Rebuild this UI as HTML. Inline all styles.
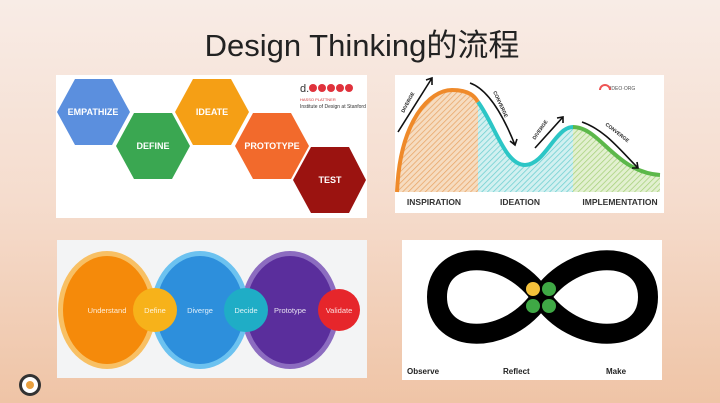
<!DOCTYPE html>
<html><head><meta charset="utf-8"><style>
html,body{margin:0;padding:0;width:720px;height:403px;overflow:hidden}
body{background:linear-gradient(180deg,#f8ece6 0%,#f5dccd 50%,#efc4a6 100%);font-family:"Liberation Sans","Noto Sans CJK SC",sans-serif}
</style></head><body>
<svg width="720" height="403" viewBox="0 0 720 403" xmlns="http://www.w3.org/2000/svg" style="position:absolute;left:0;top:0">
<defs>
<pattern id="h1" width="4" height="4" patternUnits="userSpaceOnUse" patternTransform="rotate(45)"><rect width="4" height="4" fill="#f6dcc0"/><line x1="0" y1="0" x2="0" y2="4" stroke="#e9a567" stroke-width="1.5"/></pattern>
<pattern id="h2" width="4" height="4" patternUnits="userSpaceOnUse" patternTransform="rotate(45)"><rect width="4" height="4" fill="#d2f0f0"/><line x1="0" y1="0" x2="0" y2="4" stroke="#6ccfd0" stroke-width="1.5"/></pattern>
<pattern id="h3" width="4" height="4" patternUnits="userSpaceOnUse" patternTransform="rotate(45)"><rect width="4" height="4" fill="#e2f0d0"/><line x1="0" y1="0" x2="0" y2="4" stroke="#a6d07a" stroke-width="1.5"/></pattern>
</defs>
<text x="362" y="56" text-anchor="middle" font-size="31" fill="#222" font-family="Liberation Sans,Noto Sans CJK SC,sans-serif">Design Thinking的流程</text>

<!-- TL panel -->
<rect x="56" y="75" width="311" height="143" fill="#fff"/>
<g font-family="Liberation Sans,sans-serif" font-weight="bold" font-size="9" fill="#fff" text-anchor="middle">
<polygon points="57,112 75,79 112,79 130,112 112,145 75,145" fill="#5b8fde"/><text x="93" y="115">EMPATHIZE</text>
<polygon points="116,146 134,113 172,113 190,146 172,179 134,179" fill="#3aa751"/><text x="153" y="149">DEFINE</text>
<polygon points="175,112 193,79 231,79 249,112 231,145 193,145" fill="#f59f15"/><text x="212" y="115">IDEATE</text>
<polygon points="235,146 253,113 291,113 309,146 291,179 253,179" fill="#f26a2c"/><text x="272" y="149">PROTOTYPE</text>
<polygon points="293,180 311,147 349,147 366,180 349,213 311,213" fill="#9b1310"/><text x="330" y="183">TEST</text>
</g>
<text x="300" y="92" font-size="11" fill="#333">d.</text>
<g fill="#e0323c"><circle cx="313" cy="88" r="4"/><circle cx="322" cy="88" r="4"/><circle cx="331" cy="88" r="4"/><circle cx="340" cy="88" r="4"/><circle cx="349" cy="88" r="4"/></g>
<text x="300" y="101" font-size="4" fill="#c33">HASSO PLATTNER</text>
<text x="300" y="108" font-size="5" fill="#333">Institute of Design at Stanford</text>

<!-- TR panel -->
<rect x="395" y="75" width="269" height="138" fill="#fff"/>
<path d="M397,192 C400,120 430,90 452,90 C470,90 475,97 478,102 L478,192 Z" fill="url(#h1)"/>
<path d="M478,102 C495,125 505,165 525,165 C545,165 555,127 573,127 L573,192 L478,192 Z" fill="url(#h2)"/>
<path d="M573,127 C600,127 615,172 660,175 L660,192 L573,192 Z" fill="url(#h3)"/>
<path d="M397,192 C400,120 430,90 452,90 C470,90 475,97 478,102" fill="none" stroke="#ef8a2a" stroke-width="4"/>
<path d="M478,102 C495,125 505,165 525,165 C545,165 555,127 573,127" fill="none" stroke="#2cc6c6" stroke-width="4"/>
<path d="M573,127 C600,127 615,172 660,175" fill="none" stroke="#5cb84a" stroke-width="4"/>
<g stroke="#111" stroke-width="1.6" fill="none">
<path d="M398,132 L432,78 M426,80 L432,78 L432,85"/>
<path d="M470,83 C490,90 505,120 515,145 M510,141 L515,145 L517,139"/>
<path d="M535,148 L563,117 M557,118 L563,117 L563,123"/>
<path d="M582,122 C605,130 620,150 638,168 M632,168 L638,168 L637,162"/>
</g>
<g font-size="5" font-weight="bold" fill="#222">
<text transform="translate(404,113) rotate(-62)">DIVERGE</text>
<text transform="translate(493,92) rotate(65)">CONVERGE</text>
<text transform="translate(535,140) rotate(-55)">DIVERGE</text>
<text transform="translate(605,125) rotate(38)">CONVERGE</text>
</g>
<text x="610" y="90" font-size="5" fill="#555">IDEO·ORG</text>
<path d="M600,90 a5,5 0 0 1 10,0" fill="none" stroke="#e55" stroke-width="2"/>
<g font-size="8.5" font-weight="bold" fill="#333" text-anchor="middle">
<text x="434" y="205">INSPIRATION</text><text x="520" y="205">IDEATION</text><text x="620" y="205">IMPLEMENTATION</text>
</g>

<!-- BL panel -->
<rect x="57" y="240" width="310" height="138" fill="#f3f4f5"/>
<ellipse cx="290" cy="310" rx="49" ry="59" fill="#8c6cc0"/>
<ellipse cx="290" cy="310" rx="44" ry="54" fill="#5a2e9c"/>
<ellipse cx="200" cy="310" rx="49" ry="59" fill="#6cc2f0"/>
<ellipse cx="200" cy="310" rx="44" ry="54" fill="#2d8fdc"/>
<ellipse cx="107" cy="310" rx="49" ry="59" fill="#f8c064"/>
<ellipse cx="107" cy="310" rx="44" ry="54" fill="#f58a0a"/>
<circle cx="155" cy="310" r="22" fill="#f7b21a"/>
<circle cx="246" cy="310" r="22" fill="#1fadc6"/>
<circle cx="339" cy="310" r="21" fill="#e6262b"/>
<g font-size="7.5" fill="#fff" fill-opacity="0.85" text-anchor="middle">
<text x="107" y="313">Understand</text><text x="155" y="313">Define</text><text x="200" y="313">Diverge</text><text x="246" y="313">Decide</text><text x="290" y="313">Prototype</text><text x="339" y="313">Validate</text>
</g>

<!-- BR panel -->
<rect x="402" y="240" width="260" height="140" fill="#fff"/>
<path d="M541,297 C574,248 648,248 648,297 C648,346 574,346 541,297 C508,248 437,248 437,297 C437,346 508,346 541,297 Z" fill="none" stroke="#000" stroke-width="20"/>
<circle cx="533" cy="289" r="7" fill="#f3c03a"/><circle cx="549" cy="289" r="7" fill="#3fa845"/>
<circle cx="533" cy="306" r="7" fill="#3fa845"/><circle cx="549" cy="306" r="7" fill="#3fa845"/>
<g font-size="8" font-weight="bold" fill="#222">
<text x="407" y="374">Observe</text><text x="503" y="374">Reflect</text><text x="606" y="374">Make</text>
</g>

<circle cx="30" cy="385" r="11" fill="#333"/><circle cx="30" cy="385" r="8" fill="#fff"/>
<circle cx="30" cy="385" r="4" fill="#e8a040"/>
</svg>
</body></html>
